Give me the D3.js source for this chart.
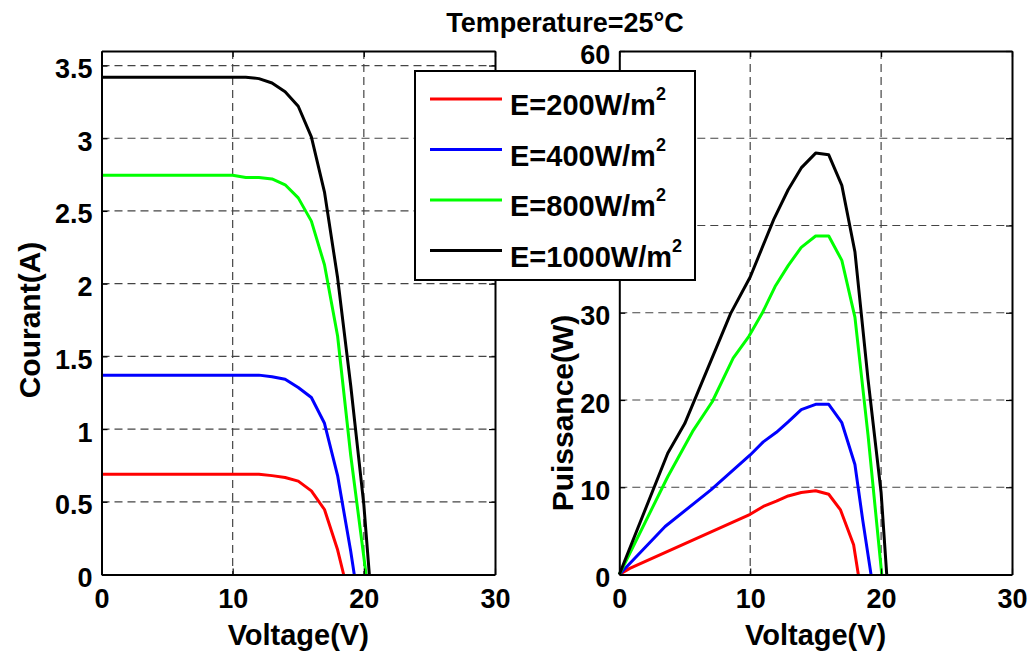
<!DOCTYPE html>
<html lang="en">
<head>
<meta charset="utf-8">
<title>Temperature=25°C</title>
<style>
body{
  margin: 0;
  background: #fff;
}
svg text{
  font-family: "Liberation Sans", Arial, sans-serif;
  font-weight: bold;
  fill: #000;
}
.grid line{
  stroke: #444;
  stroke-width: 1.2;
  stroke-dasharray: 8,5;
}
</style>
<script src="https://cdn.jsdelivr.net/npm/d3@7/dist/d3.min.js"></script>
</head>
<body>
<div id="chart"></div>

<script>
/* legend text (the superscript 2 is added when drawing) */
var legendNames = ['E=200W/m', 'E=400W/m', 'E=800W/m', 'E=1000W/m'];
var lineColors = ['#ff0000', '#0000ff', '#00ff00', '#000000'];

/* tick values */
var voltTicks = [0, 10, 20, 30];
var currentTicks = [0, 0.5, 1, 1.5, 2, 2.5, 3, 3.5];
var powerTicks = [0, 10, 20, 30, 40, 50, 60];

/* I-V curves */
var ivV200 = [0, 12, 13, 14, 15, 16, 17, 18, 18.46];
var ivI200 = [0.69, 0.69, 0.68, 0.667, 0.642, 0.575, 0.447, 0.17, 0];
var ivV400 = [0, 12, 13, 14, 15, 16, 17, 18, 19, 19.27];
var ivI400 = [1.371, 1.371, 1.36, 1.343, 1.286, 1.217, 1.04, 0.68, 0.16, 0];
var ivV800 = [0, 10, 11, 12, 13, 14, 15, 16, 17, 18, 19, 20, 20.17];
var ivI800 = [2.745, 2.745, 2.73, 2.73, 2.72, 2.68, 2.59, 2.43, 2.13, 1.64, 0.82, 0.12, 0];
var ivV1000 = [0, 11, 12, 13, 14, 15, 16, 17, 18, 19, 20, 20.42];
var ivI1000 = [3.42, 3.42, 3.41, 3.38, 3.32, 3.22, 3.01, 2.63, 2.04, 1.3, 0.48, 0];

/* P-V curves */
var pvV200 = [0, 0.8, 10, 11, 12, 12.9, 13.9, 15, 16, 16.9, 17.9, 18.26];
var pvP200 = [0, 0.7, 6.9, 7.8, 8.4, 9.0, 9.4, 9.6, 9.2, 7.4, 3.4, 0];
var pvV400 = [0, 3.5, 7, 10, 11, 12, 12.9, 13.9, 15, 16, 17, 18, 18.6, 19.23];
var pvP400 = [0, 5.5, 9.7, 13.7, 15.2, 16.3, 17.5, 18.9, 19.5, 19.5, 17.4, 12.6, 6.2, 0];
var pvV800 = [0, 3.7, 5.6, 7.1, 8.7, 9.9, 10.9, 11.9, 12.9, 13.9, 15, 16, 17, 18, 19, 20.05];
var pvP800 = [0, 11.2, 16.4, 19.8, 24.8, 27.3, 29.9, 33.0, 35.4, 37.5, 38.8, 38.8, 36.0, 29.5, 16.0, 0];
var pvV1000 = [0, 3.7, 5, 8.5, 10, 11.8, 12.9, 13.9, 15, 16, 17, 18, 19, 20, 20.43];
var pvP1000 = [0, 13.9, 17.3, 29.9, 34.1, 40.7, 44.1, 46.6, 48.3, 48.1, 44.6, 37.0, 22.4, 9.4, 0];

var ivSeries = [[ivV200, ivI200], [ivV400, ivI400], [ivV800, ivI800], [ivV1000, ivI1000]];
var pvSeries = [[pvV200, pvP200], [pvV400, pvP400], [pvV800, pvP800], [pvV1000, pvP1000]];

var width = 1036, height = 655;
var plotTop = 51, plotBottom = 574.5;
/* legend box: it covers part of the right panel's y labels */
var legendBox = { x: 415, y: 71, w: 280, h: 209 };

var svg = d3.select('#chart')
  .append('svg')
  .attr('width', width)
  .attr('height', height);

function drawPanel(left, right, yMax, yTicks, series, yLabel, yLabelX, yLabelY) {
  var x = d3.scaleLinear().domain([0, 30]).range([left, right]);
  var y = d3.scaleLinear().domain([0, yMax]).range([plotBottom, plotTop]);
  var g = svg.append('g');

  /* dashed grid */
  var grid = g.append('g').attr('class', 'grid');
  grid.selectAll('.vg')
    .data(voltTicks.filter(function(d) { return d > 0 && d < 30; }))
    .enter().append('line')
    .attr('x1', function(d) { return x(d); })
    .attr('x2', function(d) { return x(d); })
    .attr('y1', plotTop).attr('y2', plotBottom);
  grid.selectAll('.hg')
    .data(yTicks.filter(function(d) { return d > 0 && d < yMax; }))
    .enter().append('line')
    .attr('y1', function(d) { return y(d); })
    .attr('y2', function(d) { return y(d); })
    .attr('x1', left).attr('x2', right);

  /* curves */
  var line = d3.line()
    .x(function(d) { return x(d[0]); })
    .y(function(d) { return y(d[1]); });
  g.selectAll('.curve')
    .data(series)
    .enter().append('path')
    .attr('fill', 'none')
    .attr('stroke', function(d, i) { return lineColors[i]; })
    .attr('stroke-width', 3)
    .attr('stroke-linejoin', 'round')
    .attr('d', function(d) { return line(d3.zip(d[0], d[1])); });

  /* axes: bottom/left with labels, top/right just ticks, all ticks inward */
  var fmt = d3.format('~g');
  var axB = g.append('g').attr('transform', 'translate(0,' + plotBottom + ')')
    .call(d3.axisBottom(x).tickValues(voltTicks).tickFormat(fmt).tickSizeInner(-6).tickSizeOuter(0).tickPadding(12));
  var axL = g.append('g').attr('transform', 'translate(' + left + ',0)')
    .call(d3.axisLeft(y).tickValues(yTicks).tickFormat(fmt).tickSizeInner(-6).tickSizeOuter(0).tickPadding(9));
  var axT = g.append('g').attr('transform', 'translate(0,' + plotTop + ')')
    .call(d3.axisTop(x).tickValues(voltTicks).tickSizeInner(-6).tickSizeOuter(0).tickFormat(''));
  var axR = g.append('g').attr('transform', 'translate(' + right + ',0)')
    .call(d3.axisRight(y).tickValues(yTicks).tickSizeInner(-6).tickSizeOuter(0).tickFormat(''));

  [axB, axL, axT, axR].forEach(function(a) {
    a.select('.domain').attr('stroke', '#000').attr('stroke-width', 2);
    a.selectAll('.tick line').attr('stroke', '#000').attr('stroke-width', 1.2);
    a.selectAll('text')
      .attr('font-family', null)
      .style('font-size', '27px');
  });
  axB.selectAll('text').attr('dy', null).attr('y', 33);
  axL.selectAll('text').attr('dy', null).attr('y', 12);

  /* labels hidden behind the legend in the original are left out */
  if (left > legendBox.x && left - 40 < legendBox.x + legendBox.w) {
    axL.selectAll('.tick')
      .filter(function(d) { return y(d) > legendBox.y && y(d) < legendBox.y + legendBox.h; })
      .select('text').remove();
  }

  /* axis titles */
  g.append('text')
    .attr('x', (left + right) / 2)
    .attr('y', 645)
    .attr('text-anchor', 'middle')
    .style('font-size', '29px')
    .text('Voltage(V)');
  g.append('text')
    .attr('transform', 'translate(' + yLabelX + ',' + yLabelY + ') rotate(-90)')
    .attr('text-anchor', 'middle')
    .style('font-size', '30px')
    .text(yLabel);
}

drawPanel(101.5, 495, 3.6, currentTicks, ivSeries, 'Courant(A)', 40, 320);
drawPanel(619.3, 1012, 60, powerTicks, pvSeries, 'Puissance(W)', 573, 413);

/* title */
svg.append('text')
  .attr('x', 565)
  .attr('y', 32)
  .attr('text-anchor', 'middle')
  .style('font-size', '27px')
  .text('Temperature=25°C');

/* legend box sits over both panels */
var legend = svg.append('g').attr('transform', 'translate(' + legendBox.x + ',' + legendBox.y + ')');
legend.append('rect')
  .attr('width', legendBox.w)
  .attr('height', legendBox.h)
  .attr('fill', '#fff')
  .attr('stroke', '#000')
  .attr('stroke-width', 2);

var items = legend.selectAll('.item')
  .data(legendNames)
  .enter().append('g')
  .attr('transform', function(d, i) { return 'translate(0,' + (28 + i * 50.5) + ')'; });
items.append('line')
  .attr('x1', 15).attr('x2', 87)
  .attr('stroke', function(d, i) { return lineColors[i]; })
  .attr('stroke-width', 3);
var label = items.append('text')
  .attr('x', 95)
  .attr('y', 16)
  .style('font-size', '29px');
label.append('tspan').text(function(d) { return d; });
label.append('tspan')
  .attr('dy', -15)
  .style('font-size', '18px')
  .text('2');
</script>
</body>
</html>
